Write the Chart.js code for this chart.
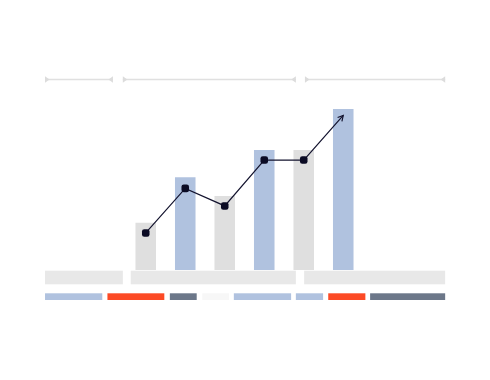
<!DOCTYPE html>
<html>
<head>
<meta charset="utf-8">
<script src="https://cdn.jsdelivr.net/npm/chart.js@4/dist/chart.umd.min.js"></script>
<style>
  html, body { margin: 0; padding: 0; background: #fff; }
  #wrap { width: 490px; height: 380px; }
</style>
</head>
<body>
<div id="wrap"><canvas id="chart" width="490" height="380"></canvas></div>
<script>
// categories (no visible labels in the picture)
const categories = ['c0', 'c1', 'c2', 'c3', 'c4', 'c5', 'c6', 'c7', 'c8', 'c9'];

// bar heights and the trend line that runs over them
const barValues = [null, null, 29.4, 57.6, 46, 74.5, 74.5, 100, null, null];
const lineValues = [null, null, 23, 50.7, 39.8, 68.3, 68.3, 96, null, null];

// spans in category units (index -0.5 .. 9.5)
const topBrackets = [[-0.55, 1.17], [1.42, 5.8], [6.03, 9.58]];
const groupSpans = [[-0.55, 1.42], [1.62, 5.8], [6.01, 9.58]];
const stripSpans = [
  [-0.55, 0.9], [1.03, 2.47], [2.61, 3.29], [3.43, 4.11],
  [4.23, 5.68], [5.8, 6.49], [6.62, 7.56], [7.68, 9.58]
];

const GREY = '#dfdfdf';
const BLUE = '#b0c2df';
const stripColors = ['#b0c2df', '#fc4a25', '#6c7789', '#f7f7f7',
                     '#b0c2df', '#b0c2df', '#fc4a25', '#6c7789'];
const barColors = categories.map((c, i) => (i % 2 === 0 ? GREY : BLUE));

// maps a category-unit position to a pixel
function unitToPx(scale, u) {
  const step = (scale.right - scale.left) / categories.length;
  return scale.left + (u + 0.5) * step;
}

const decorPlugin = {
  id: 'decor',
  afterDraw(chart) {
    const ctx = chart.ctx;
    const x = chart.scales.x;
    const area = chart.chartArea;
    ctx.save();

    // brackets along the top
    const by = 79.5;
    ctx.strokeStyle = '#e0e0e0';
    ctx.fillStyle = '#dcdcdc';
    ctx.lineWidth = 1.5;
    topBrackets.forEach(([a, b]) => {
      const x0 = unitToPx(x, a), x1 = unitToPx(x, b);
      ctx.beginPath();
      ctx.moveTo(x0, by);
      ctx.lineTo(x1, by);
      ctx.stroke();
      ctx.beginPath();
      ctx.moveTo(x0, by - 3.2);
      ctx.lineTo(x0 + 4.5, by);
      ctx.lineTo(x0, by + 3.2);
      ctx.fill();
      ctx.beginPath();
      ctx.moveTo(x1, by - 3.2);
      ctx.lineTo(x1 - 4.5, by);
      ctx.lineTo(x1, by + 3.2);
      ctx.fill();
    });

    // grey group blocks under the bars
    ctx.fillStyle = '#e8e8e8';
    groupSpans.forEach(([a, b]) => {
      const x0 = unitToPx(x, a), x1 = unitToPx(x, b);
      ctx.fillRect(x0, area.bottom + 0.7, x1 - x0, 13.6);
    });

    // coloured strip
    stripSpans.forEach(([a, b], i) => {
      const x0 = unitToPx(x, a), x1 = unitToPx(x, b);
      ctx.fillStyle = stripColors[i];
      ctx.fillRect(x0, area.bottom + 23.3, x1 - x0, 6.7);
    });

    // open arrow head at the end of the line
    const pts = chart.getDatasetMeta(1).data.filter((p, i) => lineValues[i] != null);
    const tip = pts[pts.length - 1], prev = pts[pts.length - 2];
    const ang = Math.atan2(tip.y - prev.y, tip.x - prev.x);
    ctx.strokeStyle = '#13132e';
    ctx.lineWidth = 1.2;
    ctx.beginPath();
    ctx.moveTo(tip.x - 6 * Math.cos(ang - 0.5), tip.y - 6 * Math.sin(ang - 0.5));
    ctx.lineTo(tip.x, tip.y);
    ctx.lineTo(tip.x - 6 * Math.cos(ang + 0.5), tip.y - 6 * Math.sin(ang + 0.5));
    ctx.stroke();

    ctx.restore();
  }
};

new Chart(document.getElementById('chart').getContext('2d'), {
  type: 'bar',
  data: {
    labels: categories,
    datasets: [
      {
        type: 'bar',
        data: barValues,
        backgroundColor: barColors,
        borderWidth: 0,
        categoryPercentage: 1,
        barPercentage: 0.52,
        order: 2
      },
      {
        type: 'line',
        data: lineValues,
        borderColor: '#13132e',
        borderWidth: 1.2,
        pointStyle: 'rectRounded',
        pointRadius: lineValues.map((v, i) => (i === 7 ? 0 : 4.4)),
        pointBackgroundColor: '#0b0b24',
        pointBorderWidth: 0,
        tension: 0,
        clip: false,
        order: 1
      }
    ]
  },
  options: {
    responsive: false,
    animation: false,
    layout: { padding: { left: 47, right: 48, top: 109, bottom: 110 } },
    scales: {
      x: { display: false },
      y: { display: false, min: 0, max: 100 }
    },
    plugins: {
      legend: { display: false },
      tooltip: { enabled: false }
    }
  },
  plugins: [decorPlugin]
});
</script>
</body>
</html>
